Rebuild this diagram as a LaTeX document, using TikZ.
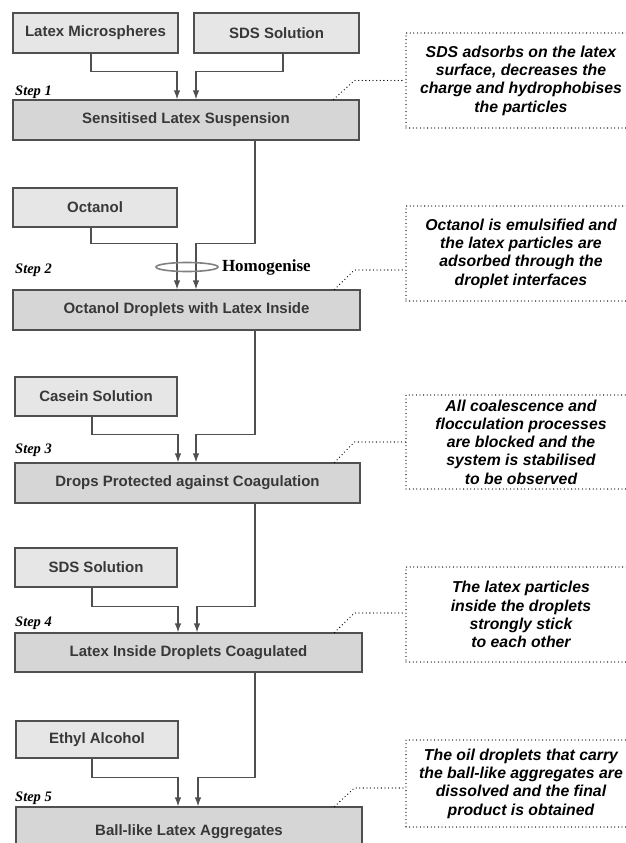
\documentclass[tikz,border=0pt]{standalone}
\usepackage{fontspec}
\setmainfont{Liberation Serif}
\setsansfont{Liberation Sans}
\usetikzlibrary{shapes.geometric,arrows.meta,calc}
\definecolor{stepfill}{HTML}{D6D6D6}
\definecolor{infill}{HTML}{E6E6E6}
\definecolor{edge}{HTML}{505050}
\definecolor{boxtext}{HTML}{383838}
\begin{document}
\begin{tikzpicture}[x=1pt,y=-1pt,
 box/.style={draw=edge, line width=1.2pt, inner sep=0pt, font=\sffamily\bfseries\fontsize{15}{18}\selectfont, text=boxtext},
 stepbox/.style={box, fill=stepfill, minimum height=40pt},
 inbox/.style={box, fill=infill},
 conn/.style={draw=edge, line width=1.2pt},
 arr/.style={conn, -{Latex[length=9pt,width=6.5pt]}},
 dotline/.style={draw=black, line width=1.3pt, line cap=round, dash pattern=on 0pt off 3.6pt},
 callout/.style={dotline, inner sep=0pt, align=center, minimum width=230pt, font=\sffamily\bfseries\itshape\fontsize{15.8}{18.3}\selectfont},
 lead/.style={dotline},
 steplabel/.style={anchor=west, inner sep=0pt, font=\bfseries\itshape\fontsize{14.5}{16}\selectfont}]
\useasboundingbox[fill=white] (0,0) rectangle (626,843);

% input boxes
\node[inbox, minimum width=165pt, minimum height=40pt] (lm) at (95.5,33) {Latex Microspheres};
\node[inbox, minimum width=165pt, minimum height=40pt] (sds) at (276.5,33) {SDS Solution};
\node[inbox, minimum width=164pt, minimum height=39pt] (oc) at (95,207.5) {Octanol};
\node[inbox, minimum width=162pt, minimum height=39pt] (cs) at (96,396.5) {Casein Solution};
\node[inbox, minimum width=162pt, minimum height=39pt] (sds2) at (96,567.5) {SDS Solution};
\node[inbox, minimum width=162pt, minimum height=37pt] (ea) at (97,739.5) {Ethyl Alcohol};

% step boxes
\node[stepbox, minimum width=346pt] (s1) at (186,120) {Sensitised Latex Suspension};
\node[stepbox, minimum width=347pt] (s2) at (186.5,310) {Octanol Droplets with Latex Inside};
\node[stepbox, minimum width=345pt] (s3) at (187.5,483) {Drops Protected against Coagulation};
\node[stepbox, minimum width=347pt, minimum height=39pt] (s4) at (188.5,652.5) {Latex Inside Droplets Coagulated};
\node[stepbox, minimum width=346pt, minimum height=50pt] (s5) at (189,832) {Ball-like Latex Aggregates};

% step labels
\node[steplabel] (l1) at (15,92) {Step 1};
\node[steplabel] (l2) at (15,270) {Step 2};
\node[steplabel] (l3) at (15,450) {Step 3};
\node[steplabel] (l4) at (15,623) {Step 4};
\node[steplabel] (l5) at (15,798) {Step 5};

% connectors
\draw[arr] ([xshift=-4.5]lm.south) -- ++(0,18) -| ([xshift=-9]s1.north);
\draw[arr] ([xshift=6.5]sds.south) -- ++(0,18) -| ([xshift=10]s1.north);

\draw[arr] ([xshift=-4]oc.south) -- ++(0,16) -| ([xshift=-9.5]s2.north);
\draw[arr] ([xshift=69]s1.south) -- ++(0,103) -| ([xshift=9.5]s2.north);

\draw[arr] ([xshift=-4]cs.south) -- ++(0,18) -| ([xshift=-9.5]s3.north);
\draw[arr] ([xshift=68.5]s2.south) -- ++(0,104) -| ([xshift=8.5]s3.north);

\draw[arr] ([xshift=-4]sds2.south) -- ++(0,19) -| ([xshift=-10.5]s4.north);
\draw[arr] ([xshift=67.5]s3.south) -- ++(0,103) -| ([xshift=8.5]s4.north);

\draw[arr] ([xshift=-5]ea.south) -- ++(0,19) -| ([xshift=-11]s5.north);
\draw[arr] ([xshift=66.5]s4.south) -- ++(0,105) -| ([xshift=9]s5.north);

% homogenise
\node[draw=gray, line width=1.6pt, ellipse, minimum width=62pt, minimum height=9pt, inner sep=0pt] (hom) at (187,267) {};
\node[anchor=west, inner sep=0pt, font=\bfseries\fontsize{17}{19}\selectfont] (homl) at ([xshift=3]hom.east) {Homogenise};

% callouts
\node[callout, minimum height=95pt] (c1) at (521,80.5) {SDS adsorbs on the latex\\surface, decreases the\\charge and hydrophobises\\the particles};
\node[callout, minimum height=95pt] (c2) at (521,253.5) {Octanol is emulsified and\\the latex particles are\\adsorbed through the\\droplet interfaces};
\node[callout, minimum height=94pt] (c3) at (521,442) {All coalescence and\\flocculation processes\\are blocked and the\\system is stabilised\\to be observed};
\node[callout, minimum height=95pt] (c4) at (521,614.5) {The latex particles\\inside the droplets\\strongly stick\\to each other};
\node[callout, minimum height=87pt] (c5) at (521,783.5) {The oil droplets that carry\\the ball-like aggregates are\\dissolved and the final\\product is obtained};

% leaders
\draw[lead] ([xshift=-26]s1.north east) -- ([xshift=-51]c1.west) -- (c1.west);
\draw[lead] ([xshift=-26]s2.north east) -- ([xshift=-51,yshift=-16.5]c2.west) -- ([yshift=-16.5]c2.west);
\draw[lead] ([xshift=-26]s3.north east) -- ([xshift=-51]c3.west) -- (c3.west);
\draw[lead] ([xshift=-28]s4.north east) -- ([xshift=-51,yshift=1.5]c4.west) -- ([yshift=1.5]c4.west);
\draw[lead] ([xshift=-28]s5.north east) -- ([xshift=-51,yshift=-4.5]c5.west) -- ([yshift=-4.5]c5.west);
\end{tikzpicture}
\end{document}
